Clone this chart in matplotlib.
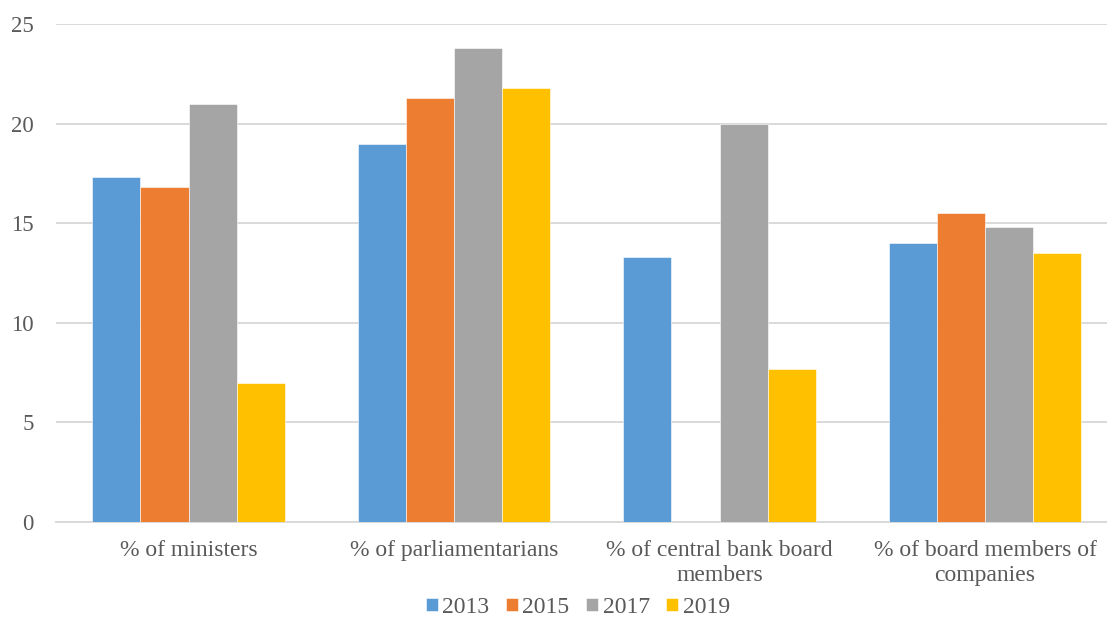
import matplotlib.pyplot as plt
import matplotlib as mpl
import numpy as np

mpl.rcParams['font.family'] = ['Liberation Serif', 'DejaVu Serif']
mpl.rcParams['font.size'] = 17

# data
categories = ['% of ministers', '% of parliamentarians',
              '% of central bank board\nmembers', '% of board members of\ncompanies']
years = ['2013', '2015', '2017', '2019']
v2013 = [17.3, 19.0, 13.3, 14.0]
v2015 = [16.8, 21.3, 0.0, 15.5]
v2017 = [21.0, 23.8, 20.0, 14.8]
v2019 = [7.0, 21.8, 7.7, 13.5]
colors = ['#5B9BD5', '#ED7D31', '#A5A5A5', '#FFC000']

txt = '#595959'
fig = plt.figure(figsize=(11.07, 6.39), dpi=100)
# plot area runs a bit past the right edge of the image, like the original
ax = fig.add_axes([0.0504, 0.183, 0.9593, 0.7794])

x = np.arange(len(categories))
w = 0.1817
for j, (vals, yr) in enumerate(zip([v2013, v2015, v2017, v2019], years)):
    ax.bar(x + (j - 1.5) * w, vals, width=w, color=colors[j], label=yr,
           edgecolor='white', linewidth=0.4, zorder=3)

ax.set_xlim(-0.5, 3.5)
ax.set_ylim(0, 25)
ax.set_yticks([0, 5, 10, 15, 20, 25])
ax.set_xticks(x)
ax.set_xticklabels(categories, color=txt, linespacing=1.25)
ax.tick_params(axis='y', length=0, pad=16, labelcolor=txt, labelsize=16.5)
ax.tick_params(axis='x', length=0, pad=13)
for lab in ax.get_yticklabels():
    lab.set_horizontalalignment('right')

ax.grid(axis='y', color='#D9D9D9', linewidth=1.4, zorder=0)
for s in ['top', 'right', 'left']:
    ax.spines[s].set_visible(False)
ax.spines['bottom'].set_color('#D9D9D9')
ax.spines['bottom'].set_linewidth(1.4)

leg = fig.legend(loc='lower center', bbox_to_anchor=(0.522, 0.0), ncol=4,
                 frameon=False, handlelength=0.5, handleheight=0.5,
                 handletextpad=0.2, columnspacing=0.7)
for t in leg.get_texts():
    t.set_color(txt)

fig.savefig('out.png', dpi=100)
